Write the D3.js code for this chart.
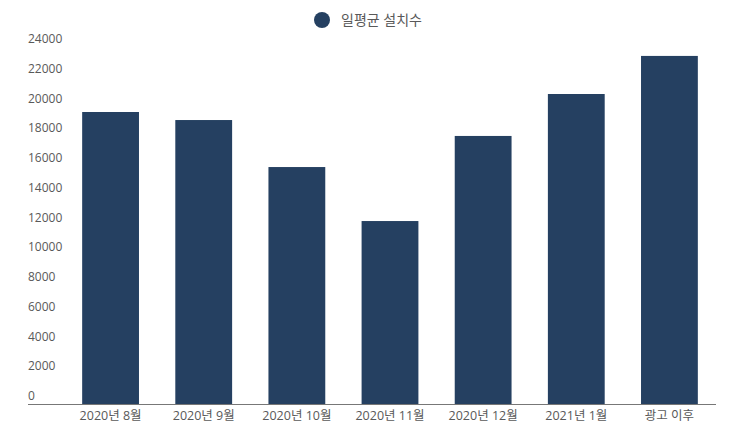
<!DOCTYPE html>
<html>
<head>
<meta charset="utf-8">
<script src="https://cdn.jsdelivr.net/npm/d3@7"></script>
<style>
  body { margin: 0; background: #fff; }
  text { font-family: "Open Sans", "Noto Sans CJK KR", sans-serif; }
</style>
</head>
<body>
<script>
const categories = ["2020년 8월", "2020년 9월", "2020년 10월", "2020년 11월", "2020년 12월", "2021년 1월", "광고 이후"];
const values = [19630, 19090, 15930, 12300, 18020, 20840, 23400];
const yTicks = [0, 2000, 4000, 6000, 8000, 10000, 12000, 14000, 16000, 18000, 20000, 22000, 24000];
const seriesName = "일평균 설치수";

const width = 744;
const height = 437;
const barColor = "#254061";
const textColor = "#595959";

const svg = d3.select("body")
    .append("svg")
    .attr("width", width)
    .attr("height", height);

const xScale = d3.scaleBand()
    .domain(categories)
    .range([64, 716])
    .paddingInner(0.39)
    .paddingOuter(0.195);

const yScale = d3.scaleLinear()
    .domain([0, 24000])
    .range([404, 47]);

// bars
svg.selectAll("rect.bar")
    .data(values)
    .enter()
    .append("rect")
    .attr("class", "bar")
    .attr("x", (d, i) => xScale(categories[i]))
    .attr("y", d => yScale(d))
    .attr("width", xScale.bandwidth())
    .attr("height", d => yScale(0) - yScale(d))
    .attr("fill", barColor);

// y labels sit just above their value
svg.selectAll("text.ytick")
    .data(yTicks)
    .enter()
    .append("text")
    .attr("class", "ytick")
    .attr("x", 28)
    .attr("y", d => yScale(d) - 8)
    .attr("dy", "0.35em")
    .style("font-size", "12px")
    .attr("fill", textColor)
    .text(d => d);

// x axis
const xAxis = d3.axisBottom(xScale).tickSize(0).tickPadding(7);
const gx = svg.append("g")
    .attr("transform", `translate(0, ${yScale(0)})`)
    .call(xAxis);
gx.select(".domain").remove();
gx.selectAll("text")
    .style("font-size", "12.5px")
    .style("font-family", "\"Open Sans\", \"Noto Sans CJK KR\", sans-serif")
    .attr("fill", textColor);

svg.append("line")
    .attr("x1", 28)
    .attr("x2", 716)
    .attr("y1", yScale(0) + 0.5)
    .attr("y2", yScale(0) + 0.5)
    .attr("stroke", "#777")
    .attr("stroke-width", 1);

// legend
svg.append("circle")
    .attr("cx", 322)
    .attr("cy", 20)
    .attr("r", 8)
    .attr("fill", barColor);

svg.append("text")
    .attr("x", 341)
    .attr("y", 20)
    .attr("dy", "0.35em")
    .style("font-size", "14px")
    .attr("fill", textColor)
    .text(seriesName);
</script>
</body>
</html>
